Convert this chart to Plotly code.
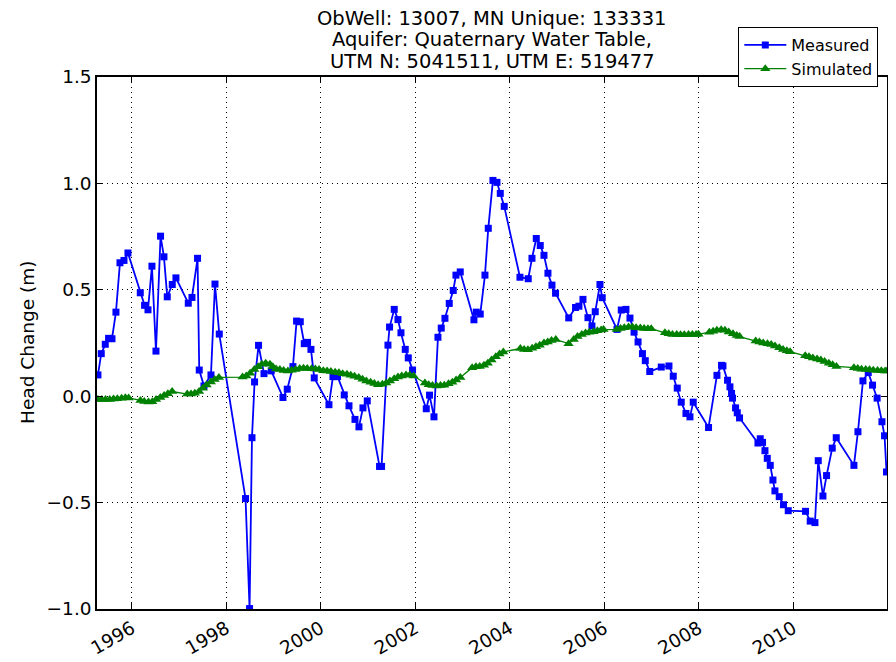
import plotly.graph_objects as go

# ---------------- data (decimal years, head change in m) ----------------
meas_year = [1995.280, 1995.350, 1995.435, 1995.505, 1995.577, 1995.661, 1995.746, 1995.831, 1995.915,
             1996.176, 1996.267, 1996.339, 1996.423, 1996.508, 1996.605, 1996.677, 1996.747, 1996.853, 1996.931,
             1997.192, 1997.270, 1997.388, 1997.424, 1997.524, 1997.672, 1997.757, 1997.848,
             1998.404, 1998.489, 1998.540, 1998.595, 1998.679, 1998.794, 1998.948,
             1999.196, 1999.287, 1999.407, 1999.484, 1999.562, 1999.647, 1999.716, 1999.788, 1999.858,
             2000.169, 2000.254, 2000.351, 2000.493, 2000.593, 2000.720, 2000.804, 2000.889, 2000.980,
             2001.240, 2001.283, 2001.418, 2001.452, 2001.551, 2001.630, 2001.693, 2001.784, 2001.848, 2001.939,
             2002.229, 2002.298, 2002.392, 2002.476, 2002.546, 2002.624, 2002.715, 2002.800, 2002.857, 2002.948,
             2003.238, 2003.287, 2003.371, 2003.471, 2003.541, 2003.640, 2003.725, 2003.795, 2003.879,
             2004.212, 2004.387, 2004.466, 2004.557, 2004.641, 2004.720, 2004.804, 2004.889, 2004.965,
             2005.244, 2005.388, 2005.460, 2005.545, 2005.651, 2005.735, 2005.805, 2005.905, 2005.953,
             2006.265, 2006.356, 2006.455, 2006.540, 2006.627, 2006.711, 2006.804, 2006.864, 2006.959,
             2007.202, 2007.365, 2007.456, 2007.541, 2007.625, 2007.725, 2007.810, 2007.879,
             2008.203, 2008.381, 2008.478, 2008.508, 2008.605, 2008.656, 2008.690, 2008.711, 2008.775, 2008.811, 2008.859,
             2009.249, 2009.297, 2009.346, 2009.397, 2009.446, 2009.509, 2009.566, 2009.608, 2009.699, 2009.790, 2009.890,
             2010.256, 2010.355, 2010.455, 2010.525, 2010.624, 2010.701, 2010.821, 2010.906,
             2011.280, 2011.365, 2011.471, 2011.583, 2011.674, 2011.771, 2011.873, 2011.928, 2011.970]
meas_val = [0.100, 0.200, 0.244, 0.272, 0.270, 0.395, 0.627, 0.638, 0.673,
            0.486, 0.427, 0.406, 0.611, 0.212, 0.752, 0.655, 0.467, 0.525, 0.556,
            0.437, 0.464, 0.648, 0.123, 0.048, 0.100, 0.527, 0.292,
            -0.481, -0.998, -0.195, 0.067, 0.239, 0.106, 0.119,
            -0.006, 0.033, 0.139, 0.353, 0.350, 0.247, 0.253, 0.220, 0.086,
            -0.040, 0.092, 0.092, 0.006, -0.045, -0.109, -0.144, -0.055, -0.022,
            -0.330, -0.330, 0.240, 0.325, 0.408, 0.360, 0.298, 0.220, 0.180, 0.123,
            -0.059, 0.005, -0.097, 0.277, 0.320, 0.366, 0.436, 0.497, 0.569, 0.584,
            0.359, 0.395, 0.386, 0.569, 0.789, 1.014, 1.005, 0.953, 0.892,
            0.559, 0.552, 0.648, 0.741, 0.708, 0.662, 0.578, 0.522, 0.484,
            0.368, 0.417, 0.423, 0.455, 0.369, 0.330, 0.397, 0.525, 0.463,
            0.314, 0.405, 0.408, 0.367, 0.301, 0.255, 0.200, 0.167, 0.116,
            0.137, 0.142, 0.094, 0.038, -0.028, -0.081, -0.097, -0.028,
            -0.147, 0.098, 0.145, 0.142, 0.075, 0.044, 0.013, -0.009, -0.055, -0.078, -0.102,
            -0.220, -0.200, -0.217, -0.256, -0.292, -0.325, -0.394, -0.445, -0.472, -0.510, -0.538,
            -0.541, -0.587, -0.594, -0.303, -0.469, -0.373, -0.244, -0.195,
            -0.325, -0.167, 0.072, 0.111, 0.052, -0.009, -0.120, -0.186, -0.356]

sim_year = [1995.28, 1995.36, 1995.44, 1995.53, 1995.61, 1995.69, 1995.78, 1995.86, 1995.93,
            1996.18, 1996.26, 1996.35, 1996.43, 1996.51, 1996.60, 1996.68, 1996.76, 1996.85,
            1997.17, 1997.25, 1997.33, 1997.42, 1997.50, 1997.58, 1997.67, 1997.75, 1997.84,
            1998.34, 1998.42, 1998.50, 1998.59, 1998.67, 1998.75, 1998.83, 1998.92, 1998.98,
            1999.05, 1999.13, 1999.21, 1999.30, 1999.38, 1999.46, 1999.55, 1999.63, 1999.71, 1999.80, 1999.88, 1999.96,
            2000.05, 2000.13, 2000.21, 2000.30, 2000.38, 2000.46, 2000.55, 2000.63, 2000.71, 2000.80, 2000.88, 2000.96,
            2001.05, 2001.13, 2001.21, 2001.30, 2001.38, 2001.46, 2001.55, 2001.63, 2001.71, 2001.80, 2001.88, 2001.96,
            2002.20, 2002.28, 2002.36, 2002.45, 2002.53, 2002.61, 2002.70, 2002.78, 2002.86, 2002.95,
            2003.20, 2003.28, 2003.36, 2003.45, 2003.53, 2003.61, 2003.70, 2003.78, 2003.86,
            2004.22, 2004.30, 2004.38, 2004.47, 2004.55, 2004.63, 2004.72, 2004.80, 2004.88, 2004.97,
            2005.24,
            2005.35, 2005.43, 2005.52, 2005.60, 2005.68, 2005.77, 2005.85, 2005.93, 2005.98,
            2006.26, 2006.34, 2006.42, 2006.51, 2006.59, 2006.67, 2006.76, 2006.84, 2006.92, 2006.99,
            2007.28, 2007.36, 2007.44, 2007.53, 2007.61, 2007.69, 2007.78, 2007.86, 2007.94, 2007.99,
            2008.22, 2008.30, 2008.38, 2008.47, 2008.55, 2008.63, 2008.72, 2008.80, 2008.86,
            2009.20, 2009.28, 2009.36, 2009.45, 2009.53, 2009.61, 2009.70, 2009.78, 2009.86, 2009.93,
            2010.25, 2010.33, 2010.41, 2010.50, 2010.58, 2010.66, 2010.75, 2010.83, 2010.91,
            2011.28, 2011.36, 2011.44, 2011.53, 2011.61, 2011.69, 2011.78, 2011.86, 2011.94, 2011.98]
sim_val = [-0.016, -0.016, -0.015, -0.015, -0.013, -0.012, -0.010, -0.007, -0.008,
           -0.020, -0.025, -0.027, -0.026, -0.015, -0.006, 0.003, 0.012, 0.022,
           0.010, 0.010, 0.014, 0.022, 0.037, 0.053, 0.067, 0.079, 0.088,
           0.090, 0.095, 0.108, 0.125, 0.138, 0.150, 0.155, 0.150, 0.138,
           0.128, 0.125, 0.121, 0.119, 0.122, 0.126, 0.130, 0.131, 0.130, 0.129, 0.128, 0.125,
           0.120, 0.118, 0.116, 0.113, 0.110, 0.106, 0.103, 0.098, 0.094, 0.088, 0.080, 0.072,
           0.066, 0.060, 0.054, 0.056, 0.062, 0.072, 0.082, 0.090, 0.095, 0.100, 0.100, 0.095,
           0.062, 0.054, 0.050, 0.048, 0.050, 0.052, 0.058, 0.066, 0.076, 0.088,
           0.134, 0.138, 0.140, 0.145, 0.155, 0.170, 0.185, 0.198, 0.208,
           0.224, 0.220, 0.218, 0.225, 0.232, 0.240, 0.250, 0.255, 0.262, 0.266,
           0.247,
           0.267, 0.280, 0.290, 0.297, 0.300, 0.303, 0.308, 0.311, 0.313,
           0.314, 0.318, 0.322, 0.325, 0.325, 0.322, 0.320, 0.318, 0.317, 0.317,
           0.298, 0.293, 0.290, 0.290, 0.289, 0.289, 0.290, 0.290, 0.290, 0.291,
           0.301, 0.305, 0.310, 0.312, 0.310, 0.302, 0.293, 0.285, 0.280,
           0.259, 0.255, 0.250, 0.246, 0.243, 0.236, 0.228, 0.220, 0.214, 0.209,
           0.190, 0.185, 0.180, 0.175, 0.170, 0.163, 0.155, 0.148, 0.140,
           0.134, 0.130, 0.127, 0.125, 0.124, 0.122, 0.121, 0.120, 0.119, 0.119]

x_tick_vals = [1996, 1998, 2000, 2002, 2004, 2006, 2008, 2010]
x_tick_text = ["1996", "1998", "2000", "2002", "2004", "2006", "2008", "2010"]
y_tick_vals = [-1.0, -0.5, 0.0, 0.5, 1.0, 1.5]
title_lines = ["ObWell: 13007, MN Unique: 133331",
               "Aquifer: Quaternary Water Table,",
               "UTM N: 5041511, UTM E: 519477"]

FONT = "DejaVu Sans"

fig = go.Figure()
fig.add_trace(go.Scatter(x=meas_year, y=meas_val, name="Measured", mode="lines+markers",
                         line=dict(color="#0000ff", width=1.8),
                         marker=dict(symbol="square", size=7, color="#0000ff")))
fig.add_trace(go.Scatter(x=sim_year, y=sim_val, name="Simulated", mode="lines+markers",
                         line=dict(color="#008000", width=1.3),
                         marker=dict(symbol="triangle-up", size=9, color="#008000")))

# The page body has an 8px default margin, so the figure is 8px smaller and
# every margin is reduced by 8 on the top/left to keep the plot area in place.
W, H = 888, 654
L, R, T, B = 89, 9, 69, 53
plot_w = W - L - R
plot_h = H - T - B

axis_common = dict(showline=True, linecolor="black", linewidth=1.5, mirror="ticks",
                   ticks="inside", ticklen=6, tickwidth=1.2, tickcolor="black",
                   showgrid=True, gridcolor="black", gridwidth=1, griddash="1px,4px",
                   zeroline=False, tickfont=dict(family=FONT, size=18.5, color="black"))

fig.update_layout(
    width=W, height=H,
    margin=dict(l=L, r=R, t=T, b=B, autoexpand=False),
    paper_bgcolor="white", plot_bgcolor="white",
    font=dict(family=FONT, color="black"),
    showlegend=True,
    legend=dict(x=0.989, y=1.094, xanchor="right", yanchor="top",
                bgcolor="white", bordercolor="black", borderwidth=1,
                font=dict(family=FONT, size=16, color="black"),
                tracegroupgap=0, itemwidth=42),
    xaxis=dict(range=[1995.26, 2011.98], tickvals=x_tick_vals, ticktext=x_tick_text,
               tickangle=-30, **axis_common),
    yaxis=dict(range=[-1.0, 1.5], tickvals=y_tick_vals, tickformat=".1f", **axis_common),
)

# multi-line title as three centred lines (page y centres 18, 40, 62)
for i, line in enumerate(title_lines):
    yc = 18 + 22 * i - 8
    fig.add_annotation(text=line, xref="paper", yref="paper", x=0.5,
                       y=(H - B - yc) / plot_h, xanchor="center", yanchor="middle",
                       showarrow=False, font=dict(family=FONT, size=19.5, color="black"))

fig.add_annotation(text="Head Change (m)", xref="paper", yref="paper",
                   x=(27 - 8 - L) / plot_w, y=0.5, xanchor="center", yanchor="middle",
                   textangle=-90, showarrow=False,
                   font=dict(family=FONT, size=18.5, color="black"))

fig.write_html("out.html")
